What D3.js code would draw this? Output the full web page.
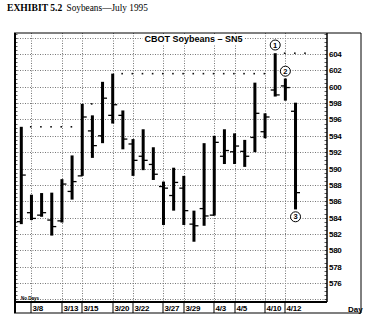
<!DOCTYPE html>
<html><head><meta charset="utf-8">
<script src="https://cdn.jsdelivr.net/npm/d3@7"></script>
<style>body{margin:0;background:#fff}svg{display:block}</style>
</head><body>
<script>
// ---- data ----
const dayLabels = ["3/8","3/13","3/15","3/20","3/22","3/27","3/29","4/3","4/5","4/10","4/12"];
const labelDays = [1,4,6,9,11,14,16,19,21,24,26];          // trading-day index of each label
const opens  = [583.5,584.6,584.3,583.7,583.6,587.2,589.1,594.6,594.0,596.5,596.5,593.0,591.5,590.5,587.8,586.7,587.6,583.2,585.1,584.3,591.5,592.05,592.1,593.8,594.5,599.6,600.1,597.0];
const highs  = [595.1,586.8,587.0,587.05,588.7,591.6,597.9,596.5,600.6,601.6,597.1,593.6,594.8,592.6,588.4,590.1,589.1,584.85,593.1,594.0,594.8,594.3,593.5,600.5,596.75,604.1,601.0,598.05];
const lows   = [583.2,583.7,584.1,581.8,583.4,586.2,589.1,591.3,593.1,595.5,592.35,589.1,589.8,588.6,583.1,584.85,583.1,581.05,583.0,584.25,590.55,590.55,590.2,592.0,593.7,598.8,598.3,585.0];
const closes = [589.2,583.9,584.6,582.9,588.1,588.4,596.3,592.8,598.6,597.8,593.6,591.0,591.0,589.3,587.6,588.3,584.85,583.0,584.2,593.2,592.2,592.75,591.5,596.75,596.3,599.0,599.9,587.05];
const priceTicks = [576,578,580,582,584,586,588,590,592,594,596,598,600,602,604];
const gridPrices = [574,576,578,580,582,584,586,588,590,592,594,596,598,600,602,604,606];
const resLevels = [595.1,597.9,601.6,604.1];
const resFrom   = [1,7,10,26];
const resTo     = [5,7,24,28];
const markNames = ["1","2","3"];
const markDays  = [25,26,27];
const markPrices= [605.1,601.9,584.1];

// ---- layout ----
const W=367,H=319;
const L=15,R=327,T=33,B=302,FR=361,FB=313;
const svg=d3.select("body").append("svg").attr("width",W).attr("height",H);
const x=d3.scaleLinear().domain([-0.62,30.1]).range([L,R]);
const y=d3.scaleLinear().domain([573.68,606.57]).range([B,T]);

// title
svg.append("text").attr("x",7).attr("y",11).attr("font-family","Liberation Serif, Times New Roman, serif")
  .attr("font-size",9.6).attr("font-weight","bold").text("EXHIBIT 5.2");
svg.append("text").attr("x",66.5).attr("y",11).attr("font-family","Liberation Serif, Times New Roman, serif")
  .attr("font-size",9.3).text("Soybeans\u2014July 1995");

// grid
const g=svg.append("g");
g.selectAll("line.hg").data(gridPrices).join("line")
  .attr("x1",L).attr("x2",R).attr("y1",d=>Math.round(y(d))+0.5).attr("y2",d=>Math.round(y(d))+0.5)
  .attr("stroke","#777").attr("stroke-width",1).attr("stroke-dasharray","1,1.5");
g.selectAll("line.vg").data(labelDays).join("line")
  .attr("x1",d=>Math.round(x(d))+0.5).attr("x2",d=>Math.round(x(d))+0.5).attr("y1",T).attr("y2",B)
  .attr("stroke","#777").attr("stroke-width",1).attr("stroke-dasharray","1,1.5");

// chart title with white backing
const ct=svg.append("text").attr("x",193.5).attr("y",41.5).attr("text-anchor","middle")
  .attr("font-family","Liberation Sans, Arial, sans-serif").attr("font-weight","bold").attr("font-size",9)
  .text("CBOT Soybeans \u2013 SN5");
const bb=ct.node().getBBox();
svg.insert("rect","text:last-of-type").attr("x",bb.x-2).attr("y",T+1).attr("width",bb.width+4).attr("height",bb.height+1).attr("fill","#fff");
ct.raise();

// resistance dots
resLevels.forEach((lv,k)=>{
  const days=d3.range(resFrom[k],resTo[k]+1);
  svg.selectAll(null).data(days).join("rect")
    .attr("x",d=>x(d)-1.5).attr("y",y(lv)-0.8).attr("width",1.6).attr("height",1.6).attr("fill","#111");
});

// bars
const idx=d3.range(highs.length);
svg.selectAll("rect.bar").data(idx).join("rect")
  .attr("x",i=>x(i)-1.5).attr("width",3).attr("y",i=>y(highs[i])).attr("height",i=>y(lows[i])-y(highs[i]))
  .attr("fill","#000");
svg.selectAll("line.op").data(idx).join("line")
  .attr("x1",i=>x(i)-4.5).attr("x2",i=>x(i)).attr("y1",i=>y(opens[i])).attr("y2",i=>y(opens[i]))
  .attr("stroke","#000").attr("stroke-width",1.3);
svg.selectAll("line.cl").data(idx).join("line")
  .attr("x1",i=>x(i)).attr("x2",i=>x(i)+4.5).attr("y1",i=>y(closes[i])).attr("y2",i=>y(closes[i]))
  .attr("stroke","#000").attr("stroke-width",1.3);

// annotation circles
markNames.forEach((m,k)=>{
  svg.append("circle").attr("cx",x(markDays[k])).attr("cy",y(markPrices[k])).attr("r",5)
    .attr("fill","#fff").attr("stroke","#000").attr("stroke-width",1);
  svg.append("text").attr("x",x(markDays[k])).attr("y",y(markPrices[k])+2.6).attr("text-anchor","middle")
    .attr("font-family","Liberation Sans, Arial, sans-serif").attr("font-weight","bold").attr("font-size",7.5).text(m);
});

// axis ticks (minor, every 0.5)
const minor=d3.range(574,606.6,0.5);
svg.selectAll("line.lt").data(minor).join("line")
  .attr("x1",L).attr("x2",L+2.5).attr("y1",d=>Math.round(y(d))+0.5).attr("y2",d=>Math.round(y(d))+0.5)
  .attr("stroke","#333").attr("stroke-width",0.8);
svg.selectAll("line.rt").data(minor).join("line")
  .attr("x1",R-2.5).attr("x2",R).attr("y1",d=>Math.round(y(d))+0.5).attr("y2",d=>Math.round(y(d))+0.5)
  .attr("stroke","#333").attr("stroke-width",0.8);

// right axis labels
svg.selectAll("text.pl").data(priceTicks).join("text")
  .attr("x",R+2).attr("y",d=>y(d)+3).attr("font-family","Liberation Sans, Arial, sans-serif")
  .attr("font-weight","bold").attr("font-size",8).attr("letter-spacing",-0.3).text(d=>d);

// frames
svg.append("line").attr("x1",L).attr("x2",L).attr("y1",T).attr("y2",FB).attr("stroke","#000").attr("stroke-width",2);
svg.append("line").attr("x1",L-1).attr("x2",FR).attr("y1",T).attr("y2",T).attr("stroke","#000").attr("stroke-width",1);
svg.append("line").attr("x1",FR).attr("x2",FR).attr("y1",T).attr("y2",FB).attr("stroke","#000").attr("stroke-width",1);
svg.append("line").attr("x1",L-1).attr("x2",FR).attr("y1",FB).attr("y2",FB).attr("stroke","#000").attr("stroke-width",1.2);
svg.append("line").attr("x1",R).attr("x2",R).attr("y1",T).attr("y2",B).attr("stroke","#000").attr("stroke-width",1.5);
svg.append("line").attr("x1",L).attr("x2",R).attr("y1",B).attr("y2",B).attr("stroke","#000").attr("stroke-width",1.8);

// date row
svg.selectAll("line.sep").data(labelDays).join("line")
  .attr("x1",d=>Math.round(x(d))).attr("x2",d=>Math.round(x(d))).attr("y1",B).attr("y2",FB)
  .attr("stroke","#000").attr("stroke-width",1);
svg.selectAll("text.dl").data(labelDays).join("text")
  .attr("x",d=>Math.round(x(d))+1.5).attr("y",311).attr("font-family","Liberation Sans, Arial, sans-serif")
  .attr("font-weight","bold").attr("font-size",8).attr("letter-spacing",-0.2).text((d,i)=>dayLabels[i]);
svg.append("text").attr("x",348).attr("y",311.5).attr("font-family","Liberation Sans, Arial, sans-serif")
  .attr("font-weight","bold").attr("font-size",8).text("Day");
svg.append("text").attr("x",21).attr("y",300).attr("font-family","Liberation Sans, Arial, sans-serif")
  .attr("font-weight","bold").attr("font-size",4.5).text("No Days");
</script>
</body></html>
